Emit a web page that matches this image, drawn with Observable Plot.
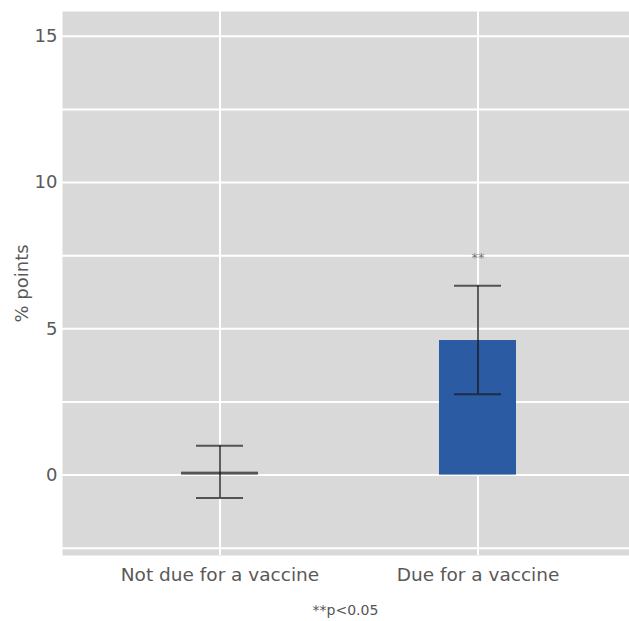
<!DOCTYPE html>
<html>
<head>
<meta charset="utf-8">
<script src="https://cdn.jsdelivr.net/npm/d3@7"></script>
<script src="https://cdn.jsdelivr.net/npm/@observablehq/plot@0.6"></script>
<style>
  body { margin: 0; background: #fff; font-family: "DejaVu Sans", sans-serif; }
  #chart svg { display: block; }
  .caption { margin-left: 62px; width: 567px; text-align: center; font-size: 14px; color: #555; line-height: 20px; margin-top: 8px; }
</style>
</head>
<body>
<div id="chart"></div>
<script>
const categories = ["Not due for a vaccine", "Due for a vaccine"];
const estimates = [0.1, 4.6];
const lowers = [-0.78, 2.76];
const uppers = [1.0, 6.47];
const sigLabels = ["", "**"];
const barColors = ["#555555", "#2b5ba3"];
const yTicks = [0, 5, 10, 15];
const gridTicks = [-2.5, 0, 2.5, 5, 7.5, 10, 12.5, 15];

const data = categories.map((c, i) => ({
  cat: c, est: estimates[i], lo: lowers[i], hi: uppers[i], sig: sigLabels[i], color: barColors[i]
}));

const plot = Plot.plot({
  width: 629,
  height: 592,
  marginLeft: 62,
  marginRight: -7,
  marginTop: 11,
  marginBottom: 37,
  style: { fontFamily: "DejaVu Sans, sans-serif", background: "#fff" },
  x: { domain: categories, paddingInner: 0.7, paddingOuter: 0.462, label: null },
  y: { domain: [-2.75, 15.85], label: null },
  marks: [
    Plot.frame({ fill: "#d9d9d9", stroke: null }),
    Plot.gridY(gridTicks, { stroke: "#fff", strokeOpacity: 1, strokeWidth: 2 }),
    Plot.gridX(categories, { stroke: "#fff", strokeOpacity: 1, strokeWidth: 2 }),
    Plot.barY(data, { x: "cat", y1: 0, y2: "est", fill: "color" }),
    Plot.ruleX(data, { x: "cat", y1: "lo", y2: "hi", stroke: "#1a1a1a", strokeOpacity: 0.7, strokeWidth: 2 }),
    Plot.tickY(data, { x: "cat", y: "lo", stroke: "#1a1a1a", strokeOpacity: 0.7, strokeWidth: 2, insetLeft: 15, insetRight: 15 }),
    Plot.tickY(data, { x: "cat", y: "hi", stroke: "#1a1a1a", strokeOpacity: 0.7, strokeWidth: 2, insetLeft: 15, insetRight: 15 }),
    Plot.text(data, { x: "cat", y: "hi", text: "sig", dy: -28, fill: "#777", fontSize: 13 }),
    Plot.axisY(yTicks, { tickSize: 0, tickPadding: 5, fontSize: 18, color: "#595959", label: "% points", labelAnchor: "center", labelArrow: "none", labelOffset: 47 }),
    Plot.axisX({ tickSize: 0, tickPadding: 12, fontSize: 18.5, color: "#595959", label: null })
  ]
});
document.getElementById("chart").appendChild(plot);
const cap = document.createElement("div");
cap.className = "caption";
cap.textContent = "**p<0.05";
document.body.appendChild(cap);
</script>
</body>
</html>
